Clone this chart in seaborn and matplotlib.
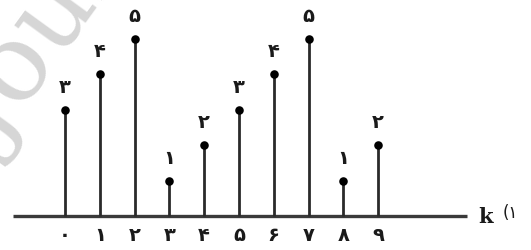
import matplotlib
matplotlib.use("Agg")
import matplotlib.pyplot as plt
import seaborn as sns
import pandas as pd

# data
k_values = [0, 1, 2, 3, 4, 5, 6, 7, 8, 9]
amplitudes = [3, 4, 5, 1, 2, 3, 4, 5, 1, 2]
tick_labels = ["۰", "۱", "۲", "۳", "۴", "۵", "۶", "۷", "۸", "۹"]
value_labels = ["۳", "۴", "۵", "۱", "۲", "۳", "۴", "۵", "۱", "۲"]
axis_label = "k"
figure_number = "(۱"
watermark = "Journal"

sns.set_theme(style="white")
plt.rcParams["font.family"] = ["DejaVu Sans"]

df = pd.DataFrame({"k": k_values, "x": amplitudes})

fig = plt.figure(figsize=(5.31, 2.51), dpi=100)
ax = fig.add_axes([0, 0, 1, 1])

# watermark
ax.text(-1.90, 1.75, watermark, rotation=54, rotation_mode="anchor",
        fontsize=78, color="#d6d6d6", family="DejaVu Serif",
        ha="left", va="baseline", zorder=0, clip_on=True)

# baseline
ax.hlines(0, -1.494, 11.551, color="#3a3a3a", lw=2.4, zorder=1)

# stems
ax.vlines(df["k"], 0, df["x"], color="#2a2a2a", lw=2.0, zorder=2)
sns.scatterplot(data=df, x="k", y="x", ax=ax, color="black", s=38,
                edgecolor="black", linewidth=0, zorder=3, legend=False)
ax.set_xlim(-1.868, 13.391)
ax.set_ylim(-0.960, 6.130)
ax.axis("off")

# value labels
for kk, vv, lab in zip(k_values, amplitudes, value_labels):
    ax.annotate(lab, (kk, vv), xytext=(0, 17), textcoords="offset points",
                ha="center", va="center", fontsize=14, fontweight="bold",
                color="#1a1a1a")

# tick labels
for kk, lab in zip(k_values, tick_labels):
    ax.annotate(lab, (kk, 0), xytext=(0, -13), textcoords="offset points",
                ha="center", va="center", fontsize=14, fontweight="bold",
                color="#1a1a1a")

ax.annotate(axis_label, (11.551, 0), xytext=(13, 0), textcoords="offset points",
            ha="center", va="center", fontsize=15, fontweight="bold",
            family="DejaVu Serif", color="#1a1a1a")
ax.annotate(figure_number, (11.551, 0), xytext=(31.5, 3), textcoords="offset points",
            ha="center", va="center", fontsize=12, color="#1a1a1a")

fig.savefig("out.png", dpi=100)
